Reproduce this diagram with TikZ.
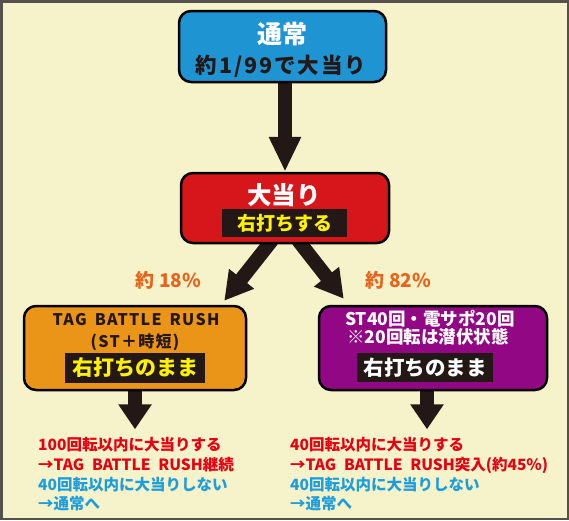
\documentclass[tikz,border=0pt]{standalone}
\usepackage{fontspec}
\setmainfont{Noto Sans CJK JP}
\usetikzlibrary{arrows.meta,calc}
\pgfdeclarelayer{back}
\pgfsetlayers{back,main}
\definecolor{bgc}{HTML}{F6F3CA}
\definecolor{framec}{HTML}{55504B}
\definecolor{bluec}{HTML}{1E94D3}
\definecolor{redc}{HTML}{D7161B}
\definecolor{orangec}{HTML}{EA9418}
\definecolor{purplec}{HTML}{920783}
\definecolor{darkc}{HTML}{231815}
\definecolor{yellowc}{HTML}{FFF100}
\definecolor{redtxt}{HTML}{E60012}
\definecolor{bluetxt}{HTML}{1C9DDD}
\definecolor{pctc}{HTML}{E8641E}
\newcommand{\wsp}{\hspace{0.5em}}
\newcommand{\fs}[1]{\bfseries\fontsize{#1}{#1}\selectfont}
\newcommand{\lsp}[1]{\addfontfeature{LetterSpace=#1}}
\begin{document}
\begin{tikzpicture}[x=1pt,y=-1pt,
  box/.style={draw=black, line width=2.5pt, rounded corners=12pt, inner sep=0pt},
  txt/.style={inner sep=0pt},
  strip/.style={fill=darkc, inner sep=0pt},
  bigarrow/.style={draw=darkc, line width=14pt, -{Triangle[width=30pt,length=28pt]}},
  vdown/.style={draw=darkc, line width=14pt, -{Triangle[width=30pt,length=35pt]}},
  sdown/.style={draw=darkc, line width=14pt, -{Triangle[width=32pt,length=25pt]}},
  note/.style={inner sep=0pt, anchor=west, font=\fs{15.5}}]
\useasboundingbox (0,0) rectangle (569,520);
\begin{pgfonlayer}{back}
\fill[bgc] (0,0) rectangle (569,520);
\end{pgfonlayer}
\draw[framec, line width=2.5pt] (1.25,1.25) rectangle (567.75,518.75);

% boxes
\node[box, fill=bluec, minimum width=207pt, minimum height=71pt] (normal) at (282.5,46.5) {};
\node[txt, text=white, font=\fs{25}] (normalT) at (282.5,34) {通常};
\node[txt, text=darkc, font=\fs{21.5}\lsp{9}] (normalP) at (281,66) {約1/99で大当り};

\node[box, fill=redc, minimum width=208pt, minimum height=70pt] (hit) at (285,208) {};
\node[txt, text=white, font=\fs{24.5}] (hitT) at (284,195) {大当り};
\node[strip, minimum width=125pt, minimum height=28pt, text=yellowc, font=\fs{19}] (hitS) at (284.5,223) {右打ちする};

\node[box, fill=orangec, minimum width=222pt, minimum height=84pt] (rush) at (135,348) {};
\node[txt, text=darkc, font=\fs{16}\lsp{8}] (rushT) at (136,320) {TAG\wsp BATTLE\wsp RUSH};
\node[txt, text=darkc, font=\fs{16}\lsp{8}] (rushS) at (135,342) {(ST＋時短)};
\node[strip, minimum width=140pt, minimum height=30pt, text=yellowc, font=\fs{21}] (rushR) at (135,368) {右打ちのまま};

\node[box, fill=purplec, minimum width=228pt, minimum height=84pt] (pur) at (433,348) {};
\node[txt, text=white, font=\fs{17.5}] (purT) at (430,319) {ST40回・電サポ20回};
\node[txt, text=white, font=\fs{17.5}] (purS) at (428,337) {※20回転は潜伏状態};
\node[strip, minimum width=136pt, minimum height=29pt, text=white, font=\fs{20.5}] (purR) at (425,367.5) {右打ちのまま};

% percentages
\node[txt, text=pctc, font=\fs{19}] (p18) at (168.5,280) {約 18\%};
\node[txt, text=pctc, font=\fs{19}] (p82) at (398.5,280) {約 82\%};

% arrows
\coordinate (a0) at ($(normal.south)+(2.5,-4)$);
\coordinate (l0) at ($(hit.south)+(-13,-4)$);
\coordinate (l1) at ($(rush.north east)+(-23,-4)$);
\coordinate (r0) at ($(hit.south)+(13,-4)$);
\coordinate (r1) at ($(pur.north west)+(26,-6)$);
\coordinate (d0) at ($(rush.south)+(0,-4)$);
\coordinate (d1) at ($(rush.south)+(0,38)$);
\coordinate (e0) at ($(pur.south)+(-6,-4)$);
\coordinate (e1) at ($(pur.south)+(-6,38)$);
\begin{pgfonlayer}{back}
\draw[vdown] (a0) -- (hit.north);
\draw[bigarrow] (l0) -- (l1);
\draw[bigarrow] (r0) -- (r1);
\draw[sdown] (d0) -- (d1);
\draw[sdown] (e0) -- (e1);
\end{pgfonlayer}

% notes
\node[note, text=redtxt] (n1) at (38,445) {100回転以内に大当りする};
\node[note, text=redtxt] (n2) at (38,465) {→TAG\wsp BATTLE\wsp RUSH継続};
\node[note, text=bluetxt] (n3) at (38,485) {40回転以内に大当りしない};
\node[note, text=bluetxt] (n4) at (38,504) {→通常へ};

\node[note, text=redtxt] (m1) at (290,445) {40回転以内に大当りする};
\node[note, text=redtxt] (m2) at (290,465) {→TAG\wsp BATTLE\wsp RUSH突入(約45％)};
\node[note, text=bluetxt] (m3) at (290,485) {40回転以内に大当りしない};
\node[note, text=bluetxt] (m4) at (290,504) {→通常へ};
\end{tikzpicture}
\end{document}
